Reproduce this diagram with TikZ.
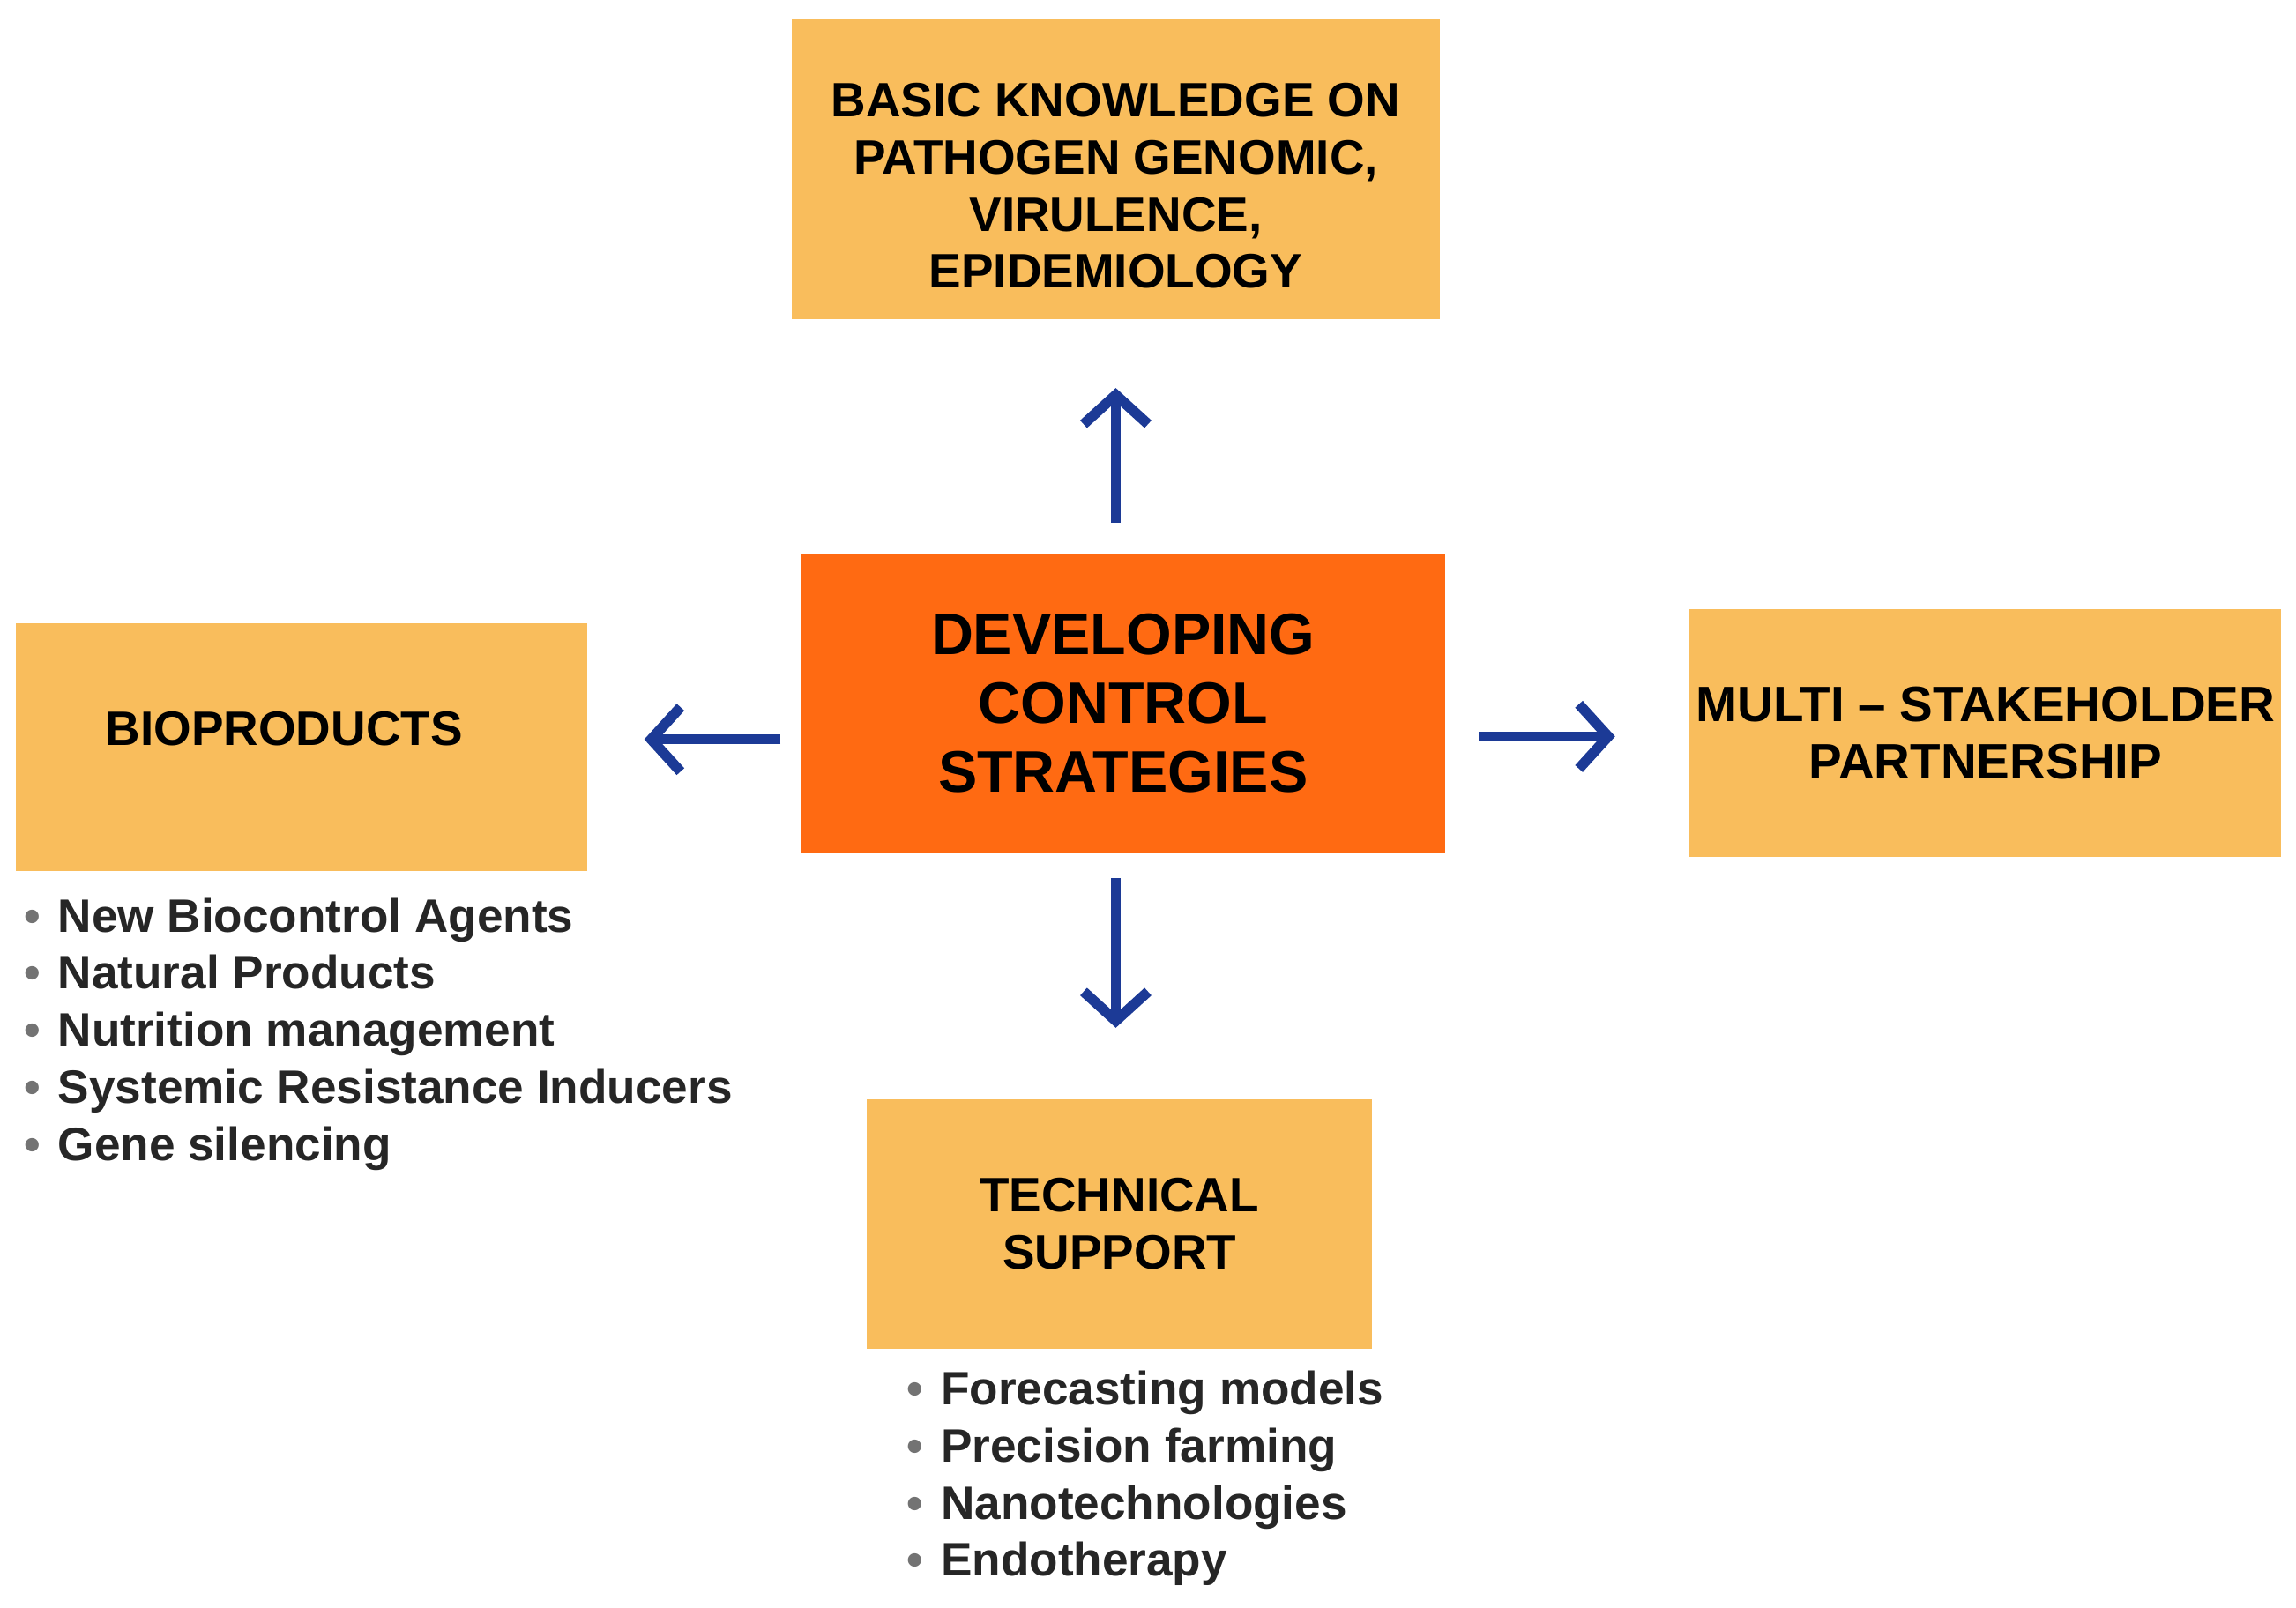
\documentclass[tikz,border=0pt]{standalone}
\usepackage{fontspec}
\setmainfont{Liberation Sans}
\usetikzlibrary{arrows.meta}
\definecolor{boxc}{HTML}{F9BD5C}
\definecolor{midc}{HTML}{FF6A12}
\definecolor{arr}{HTML}{1C3A96}
\begin{document}
\begin{tikzpicture}[x=0.5pt,y=-0.5pt,
  box/.style={fill=boxc,draw=none,inner sep=0pt,align=center,font=\fontsize{16.5}{19.5}\selectfont\bfseries},
  ar/.style={draw=arr,line width=3.5pt,-{Straight Barb[length=10pt,width=22pt,line width=3.5pt]}},
  lst/.style={anchor=north west,align=left,inner sep=0pt,font=\fontsize{16}{19.5}\selectfont\bfseries,text=black!85}]
\useasboundingbox (0,0) rectangle (1568,1098);
\node[box,minimum width=221pt,minimum height=102.5pt] (top) at (762,115.5) {};
\node[box,fill=none,align=center] (toptext) at (762,127) {BASIC KNOWLEDGE ON\\PATHOGEN GENOMIC,\\VIRULENCE,\\EPIDEMIOLOGY};
\node[box,fill=midc,minimum width=220pt,minimum height=102.5pt,font=\fontsize{20}{23.5}\selectfont\bfseries] (mid) at (767,480.5) {DEVELOPING\\CONTROL\\STRATEGIES};
\node[box,minimum width=195pt,minimum height=84.5pt] (left) at (206,510.5) {};
\node[box,fill=none] (lefttext) at (194,498) {BIOPRODUCTS};
\node[box,minimum width=202pt,minimum height=84.5pt,font=\fontsize{17}{19.5}\selectfont\bfseries] (right) at (1356,500.5) {MULTI -- STAKEHOLDER\\PARTNERSHIP};
\node[box,minimum width=172.5pt,minimum height=85pt] (bot) at (764.5,836) {TECHNICAL\\SUPPORT};
\coordinate (mu) at (762,357); \coordinate (tu) at (762,265);
\coordinate (ml) at (533,505); \coordinate (tl) at (440,505);
\coordinate (mr) at (1010,503); \coordinate (tr) at (1103,503);
\coordinate (md) at (762,600); \coordinate (td) at (762,702);
\draw[ar] (mu) -- (tu);
\draw[ar] (ml) -- (tl);
\draw[ar] (mr) -- (tr);
\draw[ar] (md) -- (td);
\node[lst] (l1) at (16,613) {{\color{black!55}•}\hspace{6pt}New Biocontrol Agents\\{\color{black!55}•}\hspace{6pt}Natural Products\\{\color{black!55}•}\hspace{6pt}Nutrition management\\{\color{black!55}•}\hspace{6pt}Systemic Resistance Inducers\\{\color{black!55}•}\hspace{6pt}Gene silencing};
\node[lst] (l2) at (619,936) {{\color{black!55}•}\hspace{6pt}Forecasting models\\{\color{black!55}•}\hspace{6pt}Precision farming\\{\color{black!55}•}\hspace{6pt}Nanotechnologies\\{\color{black!55}•}\hspace{6pt}Endotherapy};
\end{tikzpicture}
\end{document}
